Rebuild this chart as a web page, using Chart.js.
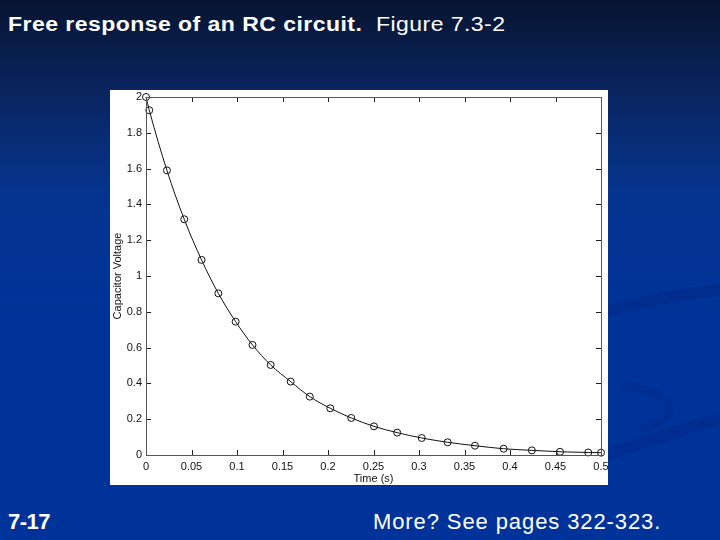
<!DOCTYPE html>
<html>
<head>
<meta charset="utf-8">
<script src="https://cdn.jsdelivr.net/npm/chart.js@4.4.0/dist/chart.umd.min.js"></script>
<style>
  html, body { margin: 0; padding: 0; }
  body {
    width: 720px; height: 540px; overflow: hidden; position: relative;
    background: linear-gradient(to bottom, #061430 0%, #0a2560 17%, #05348f 36%, #003399 58%, #003399 100%);
    font-family: "Liberation Sans", Arial, sans-serif;
  }
  .swoosh { position: absolute; left: 0; top: 0; }
  .title { position: absolute; left: 8px; top: 13px; color: #fff; font-size: 20px; letter-spacing: 0.4px;
           white-space: pre; transform: scaleX(1.15); transform-origin: left top; }
  .title b { font-weight: bold; }
  .foot-left { position: absolute; left: 8px; top: 509px; color: #fff; font-size: 22px; font-weight: bold; letter-spacing: -0.5px; }
  .foot-right { position: absolute; left: 373px; top: 509px; color: #fff; font-size: 22px; letter-spacing: 0.9px; }
  .plotbox { position: absolute; left: 110px; top: 90px; width: 498px; height: 395px; background: #fff; }
</style>
</head>
<body>
<svg class="swoosh" width="720" height="540">
  <path d="M600 312 C 650 300, 690 292, 720 290" stroke="rgba(0,20,100,0.18)" stroke-width="12" fill="none"/>
  <path d="M620 385 C 670 390, 690 415, 640 430" stroke="rgba(0,20,100,0.15)" stroke-width="8" fill="none"/>
  <path d="M605 455 C 650 440, 690 428, 720 418" stroke="rgba(0,20,100,0.18)" stroke-width="12" fill="none"/>
</svg>
<div class="title"><b>Free response of an RC circuit.</b>  Figure 7.3-2</div>
<div class="plotbox"><canvas id="rcChart" width="498" height="395"></canvas></div>
<div class="foot-left">7-17</div>
<div class="foot-right">More? See pages 322-323.</div>

<script>
// values
const timeValues = [0, 0.0036, 0.023, 0.042, 0.061, 0.0795, 0.0985, 0.117, 0.137, 0.159, 0.18, 0.2025,
    0.2256, 0.2505, 0.276, 0.303, 0.3315, 0.3615, 0.393, 0.424, 0.455, 0.486, 0.5];
const voltageValues = [2, 1.926, 1.59, 1.317, 1.09, 0.903, 0.745, 0.615, 0.503, 0.41, 0.326, 0.261,
    0.207, 0.16, 0.125, 0.095, 0.071, 0.052, 0.035, 0.026, 0.018, 0.014, 0.013];
const xTicks = [0, 0.05, 0.1, 0.15, 0.2, 0.25, 0.3, 0.35, 0.4, 0.45, 0.5];
const yTicks = [0, 0.2, 0.4, 0.6, 0.8, 1, 1.2, 1.4, 1.6, 1.8, 2];

const points = timeValues.map((t, i) => ({ x: t, y: voltageValues[i] }));

// matlab style box with inward ticks
const boxTicks = {
    id: 'boxTicks',
    afterDraw(chart) {
        const { ctx, chartArea: a, scales } = chart;
        const len = 5;
        ctx.save();
        ctx.strokeStyle = '#222';
        ctx.lineWidth = 1;
        ctx.beginPath();
        xTicks.forEach(v => {
            const x = Math.round(scales.x.getPixelForValue(v)) + 0.5;
            ctx.moveTo(x, a.bottom); ctx.lineTo(x, a.bottom - len);
            ctx.moveTo(x, a.top); ctx.lineTo(x, a.top + len);
        });
        yTicks.forEach(v => {
            const y = Math.round(scales.y.getPixelForValue(v)) + 0.5;
            ctx.moveTo(a.left, y); ctx.lineTo(a.left + len, y);
            ctx.moveTo(a.right, y); ctx.lineTo(a.right - len, y);
        });
        ctx.stroke();
        ctx.strokeStyle = '#555';
        ctx.strokeRect(Math.round(a.left) + 0.5, Math.round(a.top) + 0.5,
            Math.round(a.right - a.left), Math.round(a.bottom - a.top));
        ctx.restore();
    }
};

document.addEventListener("DOMContentLoaded", () => {
    const ctx = document.getElementById("rcChart").getContext("2d");
    new Chart(ctx, {
        type: 'line',
        data: {
            datasets: [{
                data: points,
                borderColor: '#111',
                borderWidth: 1,
                backgroundColor: 'rgba(0,0,0,0)',
                pointStyle: 'circle',
                pointRadius: 3.5,
                pointBorderWidth: 1,
                pointBorderColor: '#111',
                pointBackgroundColor: 'rgba(0,0,0,0)',
                cubicInterpolationMode: 'monotone',
                clip: false
            }]
        },
        options: {
            responsive: false,
            animation: false,
            layout: { padding: { left: 0, top: 7, right: 7, bottom: 0 } },
            plugins: { legend: { display: false }, tooltip: { enabled: false } },
            scales: {
                x: {
                    type: 'linear', min: 0, max: 0.5,
                    afterBuildTicks: s => { s.ticks = xTicks.map(v => ({ value: v })); },
                    afterFit: s => { s.height = 30; s.paddingLeft = 0; s.paddingRight = 0; },
                    grid: { display: false, drawTicks: false },
                    border: { display: false },
                    ticks: {
                        color: '#111', padding: 5, maxRotation: 0, autoSkip: false,
                        font: { family: 'Liberation Sans', size: 11 },
                        callback: v => String(v)
                    },
                    title: {
                        display: true, text: 'Time (s)', color: '#111',
                        font: { family: 'Liberation Sans', size: 11 },
                        padding: { top: 0, bottom: -1 }
                    }
                },
                y: {
                    type: 'linear', min: 0, max: 2,
                    afterBuildTicks: s => { s.ticks = yTicks.map(v => ({ value: v })); },
                    afterFit: s => { s.width = 36; s.paddingTop = 0; s.paddingBottom = 0; },
                    grid: { display: false, drawTicks: false },
                    border: { display: false },
                    ticks: {
                        color: '#111', padding: 4, autoSkip: false,
                        font: { family: 'Liberation Sans', size: 11 },
                        callback: v => String(v)
                    },
                    title: {
                        display: true, text: 'Capacitor Voltage', color: '#111',
                        font: { family: 'Liberation Sans', size: 11 },
                        padding: { top: 1, bottom: 0 }
                    }
                }
            }
        },
        plugins: [boxTicks]
    });
});
</script>
</body>
</html>
